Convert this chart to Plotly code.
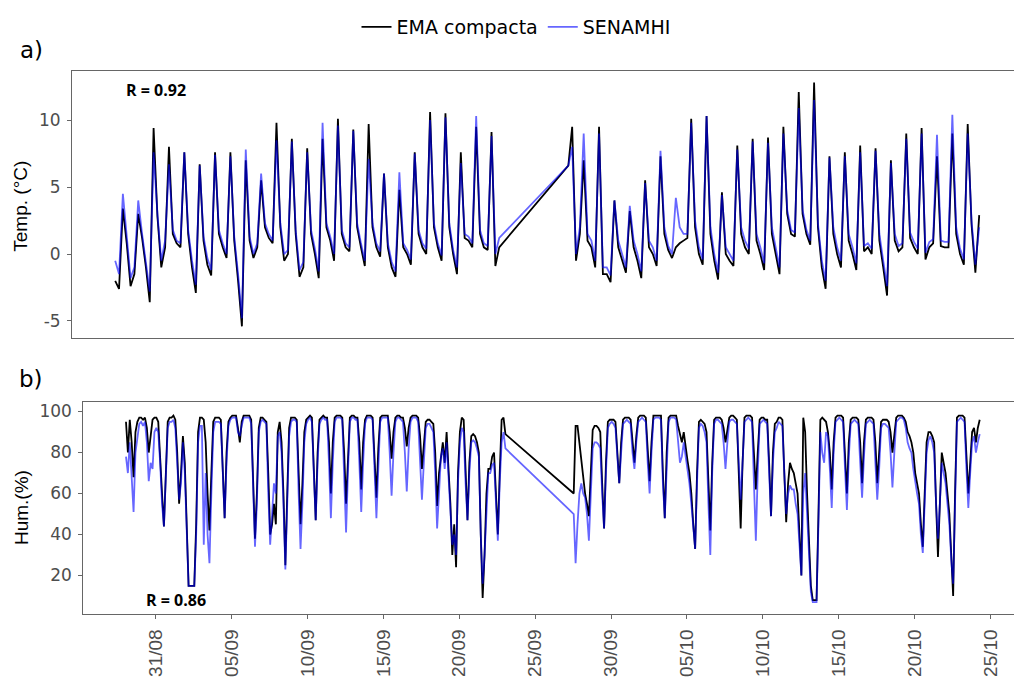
import pandas as pd
import plotly.graph_objects as go

# ---------------- data ----------------
seg1_start = "2021-08-29 01:00"
seg2_start = "2021-09-27 13:00"

# temperature, 6-hourly readings (01h, 07h, 13h, 19h)
temp_ema_1 = [
    -2.0, -2.6, 3.4, 0.8,   -2.4, -1.5, 3.0, 1.2,   -1.0, -3.6, 9.4, 2.8,
    -1.0, 0.5, 8.0, 1.5,    0.8, 0.5, 7.6, 1.5,     -1.0, -2.9, 6.7, 1.0,
    -0.8, -1.6, 7.6, 1.5,   0.5, -0.3, 7.6, 1.0,    -2.0, -5.4, 7.0, 1.0,
    -0.3, 0.5, 5.5, 2.0,    1.2, 0.8, 9.8, 2.0,     -0.5, 0.0, 8.6, 1.5,
    -1.7, -1.0, 7.9, 1.5,   0.0, -1.8, 8.6, 2.0,    1.0, -0.5, 10.1, 1.5,
    0.5, 0.2, 9.3, 2.0,     0.5, -0.9, 9.7, 2.0,    0.5, -0.2, 6.0, 0.5,
    -1.0, -1.7, 4.8, 0.5,   0.0, -0.8, 7.6, 1.5,    0.5, 0.0, 10.6, 2.0,
    0.5, -0.5, 10.5, 2.0,   0.0, -1.5, 7.6, 1.2,    1.0, 0.5, 9.5, 1.5,
    0.5, 0.3, 9.1, -0.9,    0.5,
]
temp_sen_1 = [
    -0.5, -1.5, 4.5, 1.2,   -1.8, -1.0, 4.0, 1.5,   -0.5, -2.8, 7.6, 3.0,
    -0.5, 1.0, 6.7, 1.8,    1.0, 0.8, 7.6, 1.8,     -0.5, -2.3, 6.6, 1.3,
    -0.3, -1.2, 7.4, 1.8,   0.8, 0.0, 7.3, 1.3,     -1.5, -4.8, 7.8, 1.3,
    0.0, 0.8, 6.0, 2.3,     1.5, 1.0, 8.5, 2.3,     0.0, 0.3, 8.4, 1.8,
    -1.2, -0.6, 7.6, 1.8,   0.4, -1.3, 9.8, 2.3,    1.3, 0.0, 9.6, 1.8,
    0.8, 0.5, 9.2, 2.3,     0.8, -0.5, 7.1, 2.3,    0.8, 0.2, 6.0, 0.8,
    -0.6, -1.3, 6.1, 0.8,   0.3, -0.4, 7.5, 1.8,    0.8, 0.4, 10.0, 2.3,
    0.8, -0.1, 10.2, 2.3,   0.3, -1.0, 6.8, 1.5,    1.3, 0.8, 10.3, 1.8,
    0.8, 0.6, 8.8, 0.0,     1.2,
]
temp_ema_2 = [
    6.6, 9.5,
    -0.5, 1.5, 7.0, 1.0,    0.5, -1.0, 9.5, -1.5,   -1.5, -2.1, 4.0, 0.5,
    -0.5, -1.4, 3.2, 0.5,   -0.5, -1.8, 5.5, 0.5,   0.0, -0.9, 7.3, 1.5,
    0.3, -0.3, 0.5, 0.8,    1.0, 1.2, 10.1, 2.0,    0.0, -0.8, 10.3, 1.5,
    -0.5, -1.9, 4.6, 0.0,   -0.5, -0.9, 8.1, 1.5,   0.5, 0.0, 8.6, 1.0,
    0.0, -1.2, 8.7, 1.5,    0.0, -1.5, 9.5, 3.0,    1.5, 1.3, 12.1, 3.0,
    1.5, 0.7, 12.8, 2.0,    -1.0, -2.6, 7.3, 1.5,   0.0, -1.0, 7.6, 1.0,
    0.0, -1.2, 8.1, 0.2,    0.5, 0.0, 7.9, 1.0,     -1.0, -3.1, 7.0, 1.0,
    0.2, 0.5, 9.0, 1.2,     0.5, 0.0, 9.4, -0.4,    0.5, 0.8, 7.3, 0.6,
    0.5, 0.5, 9.0, 1.5,     0.0, -0.8, 9.7, 2.2,
    -1.4, 2.9,
]
temp_sen_2 = [
    6.6, 8.0,
    0.0, 2.0, 9.0, 1.5,     1.0, -0.5, 9.0, -1.0,   -1.0, -1.6, 4.0, 1.0,
    0.0, -1.0, 3.6, 1.0,    0.0, -1.3, 5.3, 1.0,    0.5, -0.5, 7.7, 2.0,
    0.6, 0.0, 4.2, 2.0,     1.5, 1.5, 9.8, 2.5,     0.5, -0.4, 10.3, 2.0,
    0.0, -1.4, 4.4, 0.5,    0.0, -0.5, 7.8, 2.0,    1.0, 0.4, 8.4, 1.5,
    0.5, -0.7, 8.3, 2.0,    0.5, -1.0, 9.0, 3.3,    1.8, 1.6, 10.9, 3.3,
    1.8, 1.0, 11.5, 2.3,    -0.5, -2.0, 7.2, 2.0,   0.5, -0.5, 7.3, 1.5,
    0.5, -0.7, 7.6, 0.6,    0.8, 0.4, 7.7, 1.5,     -0.5, -2.4, 6.8, 1.5,
    0.6, 0.8, 8.6, 1.6,     0.9, 0.4, 9.0, 0.1,     0.9, 1.1, 8.9, 1.0,
    0.9, 0.9, 10.4, 2.0,    0.4, -0.4, 9.0, 2.5,
    -0.8, 2.0,
]

# relative humidity, 3-hourly readings (01, 04, 07, 10, 13, 16, 19, 22 h)
hum_ema_1 = [
    95, 80, 96, 85, 68, 90, 95, 97,
    97, 96, 97, 92, 80, 88, 96, 97,
    97, 95, 80, 60, 44, 75, 95, 97,
    97, 98, 96, 80, 55, 70, 88, 75,
    40, 15, 15, 15, 15, 45, 90, 97,
    97, 96, 85, 60, 42, 70, 95, 97,
    97, 97, 96, 75, 48, 80, 95, 97,
    98, 98, 98, 92, 85, 95, 98, 98,
    98, 98, 96, 70, 38, 60, 92, 97,
    97, 96, 95, 70, 40, 45, 55, 45,
    90, 95, 85, 60, 25, 60, 92, 97,
    97, 97, 96, 70, 45, 65, 90, 96,
    97, 98, 97, 75, 47, 80, 96, 97,
    98, 97, 97, 85, 60, 85, 97, 98,
    98, 98, 97, 80, 55, 80, 97, 98,
    98, 97, 97, 85, 62, 85, 96, 98,
    98, 98, 97, 80, 58, 82, 97, 98,
    98, 98, 98, 90, 77, 90, 97, 98,
    98, 97, 97, 92, 83, 92, 97, 98,
    98, 98, 97, 88, 72, 85, 95, 96,
    96, 95, 94, 80, 54, 70, 79, 85,
    75, 90, 72, 55, 30, 45, 24, 70,
    90, 97, 96, 70, 47, 75, 88, 89,
    88, 85, 80, 40, 9, 30, 60, 72,
    72, 78, 80, 60, 40, 70, 96, 97,
    89,
]
hum_sen_1 = [
    78, 70, 85, 65, 51, 80, 88, 94,
    95, 93, 95, 85, 66, 75, 72, 90,
    92, 90, 75, 55, 44, 70, 92, 95,
    95, 96, 92, 75, 57, 65, 85, 70,
    38, 15, 15, 15, 15, 40, 85, 93,
    93, 35, 70, 40, 26, 60, 90, 95,
    95, 95, 94, 70, 48, 75, 93, 96,
    97, 97, 97, 90, 88, 93, 97, 97,
    97, 97, 94, 65, 34, 55, 90, 95,
    96, 95, 94, 60, 35, 50, 65, 60,
    88, 90, 80, 55, 23, 55, 88, 95,
    96, 96, 95, 60, 33, 55, 85, 94,
    96, 97, 95, 70, 47, 75, 94, 96,
    97, 96, 96, 75, 48, 75, 95, 97,
    97, 97, 96, 70, 41, 70, 95, 97,
    97, 96, 96, 75, 51, 75, 94, 97,
    97, 97, 96, 72, 48, 72, 95, 97,
    97, 97, 97, 80, 59, 80, 95, 97,
    97, 96, 95, 80, 61, 82, 95, 97,
    97, 97, 95, 78, 57, 75, 92, 94,
    94, 92, 90, 70, 43, 60, 78, 82,
    72, 85, 70, 50, 35, 40, 30, 65,
    85, 92, 90, 65, 47, 70, 85, 86,
    85, 82, 78, 40, 16, 30, 55, 70,
    70, 74, 75, 55, 37, 65, 85, 90,
    82,
]
hum_ema_2 = [
    60, 93, 93, 85,
    75, 69, 60, 55, 49, 70, 91, 93,
    93, 92, 90, 65, 43, 75, 95, 96,
    96, 96, 95, 80, 65, 85, 96, 97,
    97, 97, 96, 85, 75, 88, 97, 98,
    98, 98, 97, 80, 66, 85, 98, 98,
    98, 98, 98, 70, 48, 80, 97, 98,
    98, 98, 98, 93, 88, 85, 90, 82,
    76, 70, 60, 45, 33, 70, 95, 96,
    95, 94, 90, 65, 42, 75, 96, 97,
    97, 97, 96, 92, 85, 92, 97, 98,
    98, 97, 96, 70, 43, 75, 97, 98,
    98, 98, 97, 80, 62, 80, 96, 97,
    97, 96, 96, 75, 49, 80, 94, 95,
    97, 97, 96, 70, 46, 65, 75, 72,
    70, 65, 60, 40, 20, 97, 90, 60,
    40, 15, 8, 8, 8, 50, 96, 97,
    96, 95, 90, 80, 62, 85, 97, 98,
    98, 98, 97, 80, 60, 85, 96, 97,
    97, 97, 96, 85, 65, 85, 96, 97,
    97, 97, 96, 85, 65, 80, 95, 96,
    96, 96, 95, 90, 80, 88, 97, 98,
    98, 98, 97, 95, 90, 88, 85, 80,
    70, 65, 60, 45, 34, 60, 85, 90,
    90, 88, 85, 55, 29, 55, 80, 75,
    70, 60, 50, 30, 10, 60, 97, 98,
    98, 98, 97, 80, 60, 75, 90, 92,
    85, 92, 96,
]
hum_sen_2 = [
    50, 26, 45, 60,
    65, 60, 58, 50, 37, 60, 82, 85,
    85, 84, 82, 60, 43, 70, 92, 94,
    95, 94, 92, 78, 65, 80, 94, 95,
    96, 95, 94, 80, 72, 85, 95, 96,
    97, 96, 95, 75, 60, 80, 96, 97,
    97, 97, 96, 65, 48, 75, 95, 97,
    97, 97, 96, 85, 75, 78, 85, 78,
    72, 65, 55, 42, 33, 65, 92, 94,
    93, 90, 85, 55, 30, 70, 94, 96,
    96, 95, 94, 85, 72, 85, 95, 96,
    96, 95, 94, 75, 57, 75, 95, 96,
    97, 96, 95, 65, 37, 70, 94, 95,
    96, 95, 94, 70, 49, 75, 90, 92,
    95, 94, 93, 70, 50, 60, 64, 62,
    62, 55, 50, 35, 20, 60, 70, 50,
    30, 12, 7, 7, 7, 45, 90, 80,
    75, 90, 88, 72, 53, 80, 95, 96,
    97, 96, 95, 72, 52, 78, 94, 95,
    96, 95, 94, 75, 58, 78, 94, 95,
    96, 95, 94, 75, 57, 72, 92, 94,
    94, 93, 92, 80, 63, 80, 95, 96,
    97, 97, 96, 92, 85, 82, 80, 72,
    65, 60, 55, 40, 31, 55, 80, 86,
    88, 85, 80, 55, 38, 55, 75, 70,
    65, 55, 45, 28, 16, 55, 95, 96,
    97, 96, 95, 72, 53, 70, 85, 88,
    80, 85, 89,
]

tick_dates = ["2021-08-31", "2021-09-05", "2021-09-10", "2021-09-15", "2021-09-20",
              "2021-09-25", "2021-09-30", "2021-10-05", "2021-10-10", "2021-10-15",
              "2021-10-20", "2021-10-25"]
tick_labels = ["31/08", "05/09", "10/09", "15/09", "20/09", "25/09", "30/09",
               "05/10", "10/10", "15/10", "20/10", "25/10"]
temp_ticks = [-5, 0, 5, 10]
temp_tick_labels = ["-5", "0", "5", "10"]
hum_ticks = [20, 40, 60, 80, 100]

# ---------------- build series ----------------
assert len(temp_sen_1) == len(temp_ema_1) and len(temp_sen_2) == len(temp_ema_2)
assert len(hum_sen_1) == len(hum_ema_1) and len(hum_sen_2) == len(hum_ema_2)

tt = list(pd.date_range(seg1_start, periods=len(temp_ema_1), freq="6h")) + \
     list(pd.date_range(seg2_start, periods=len(temp_ema_2), freq="6h"))
th = list(pd.date_range(seg1_start, periods=len(hum_ema_1), freq="3h")) + \
     list(pd.date_range(seg2_start, periods=len(hum_ema_2), freq="3h"))

temp_ema = temp_ema_1 + temp_ema_2
temp_sen = temp_sen_1 + temp_sen_2
hum_ema = hum_ema_1 + hum_ema_2
hum_sen = hum_sen_1 + hum_sen_2

BLACK = "#000000"
BLUE = "rgba(0,0,255,0.6)"
LW = 1.8

fig = go.Figure()
fig.add_trace(go.Scatter(x=tt, y=temp_ema, mode="lines", name="EMA compacta",
                         line=dict(color=BLACK, width=LW), xaxis="x", yaxis="y",
                         legendgroup="ema"))
fig.add_trace(go.Scatter(x=tt, y=temp_sen, mode="lines", name="SENAMHI",
                         line=dict(color=BLUE, width=LW), xaxis="x", yaxis="y",
                         legendgroup="sen"))
fig.add_trace(go.Scatter(x=th, y=hum_ema, mode="lines", name="EMA compacta",
                         line=dict(color=BLACK, width=LW), xaxis="x2", yaxis="y2",
                         legendgroup="ema", showlegend=False))
fig.add_trace(go.Scatter(x=th, y=hum_sen, mode="lines", name="SENAMHI",
                         line=dict(color=BLUE, width=LW), xaxis="x2", yaxis="y2",
                         legendgroup="sen", showlegend=False))

# page body has an 8px margin: the figure is sized so it fits the window exactly
OFF = 8
W, H = 1022 - OFF, 677 - OFF
xrange_ = ["2021-08-26 05:30", "2021-10-26 23:30"]
FRAME = "#666666"
TICKC = "#4D4D4D"
FONT = "Liberation Sans, Arial, sans-serif"
WIDE = "DejaVu Sans, Liberation Sans, sans-serif"

def px_x(p):
    return (p - OFF) / W

def px_y(p):
    return 1 - (p - OFF) / H

frame = dict(showline=True, mirror=True, linecolor=FRAME, linewidth=1,
             showgrid=False, zeroline=False, ticks="outside", ticklen=4,
             tickcolor=FRAME)
yfont = dict(size=17, color=TICKC, family=WIDE)
xfont = dict(size=19, color=TICKC, family=FONT)

fig.update_layout(
    width=W, height=H,
    margin=dict(l=0, r=0, t=0, b=0),
    paper_bgcolor="white", plot_bgcolor="white",
    font=dict(family=FONT, color="black"),
    showlegend=True,
    legend=dict(orientation="h", x=px_x(516), xanchor="center", y=px_y(19), yanchor="middle",
                font=dict(size=19, color="black", family=WIDE), itemwidth=30),
    xaxis=dict(domain=[px_x(72), px_x(1020.5)], anchor="y", range=xrange_,
               type="date", showline=True, mirror=True, linecolor=FRAME, linewidth=1,
               showgrid=False, zeroline=False, showticklabels=False, ticks=""),
    yaxis=dict(domain=[px_y(334.3), px_y(64)], anchor="x", range=[-6.3, 13.64],
               tickvals=temp_ticks, ticktext=temp_tick_labels, tickfont=yfont,
               ticklabelstandoff=3, **frame),
    xaxis2=dict(domain=[px_x(83.3), px_x(1020.5)], anchor="y2", range=xrange_,
                type="date", tickvals=tick_dates, ticktext=tick_labels,
                tickangle=-90, tickfont=xfont, ticklabelstandoff=3, **frame),
    yaxis2=dict(domain=[px_y(613), px_y(399)], anchor="x2", range=[1.35, 104.5],
                tickvals=hum_ticks, tickfont=yfont, ticklabelstandoff=3, **frame),
)

annots = [
    dict(text="a)", x=px_x(31), y=px_y(42), font=dict(size=23, family=WIDE)),
    dict(text="b)", x=px_x(31), y=px_y(375), font=dict(size=23, family=WIDE)),
    dict(text="Temp. (°C)", x=px_x(21), y=px_y(201), textangle=-90, font=dict(size=19)),
    dict(text="Hum.(%)", x=px_x(21), y=px_y(506), textangle=-90, font=dict(size=19)),
    dict(text="<b>R = 0.92</b>", x=px_x(155.5), y=px_y(82.5),
         font=dict(size=16, family="Open Sans, sans-serif")),
    dict(text="<b>R = 0.86</b>", x=px_x(175.5), y=px_y(599.5),
         font=dict(size=16, family="Open Sans, sans-serif")),
]
for a in annots:
    fig.add_annotation(xref="paper", yref="paper", showarrow=False,
                       xanchor="center", yanchor="middle", **a)

fig.write_html("out.html")
